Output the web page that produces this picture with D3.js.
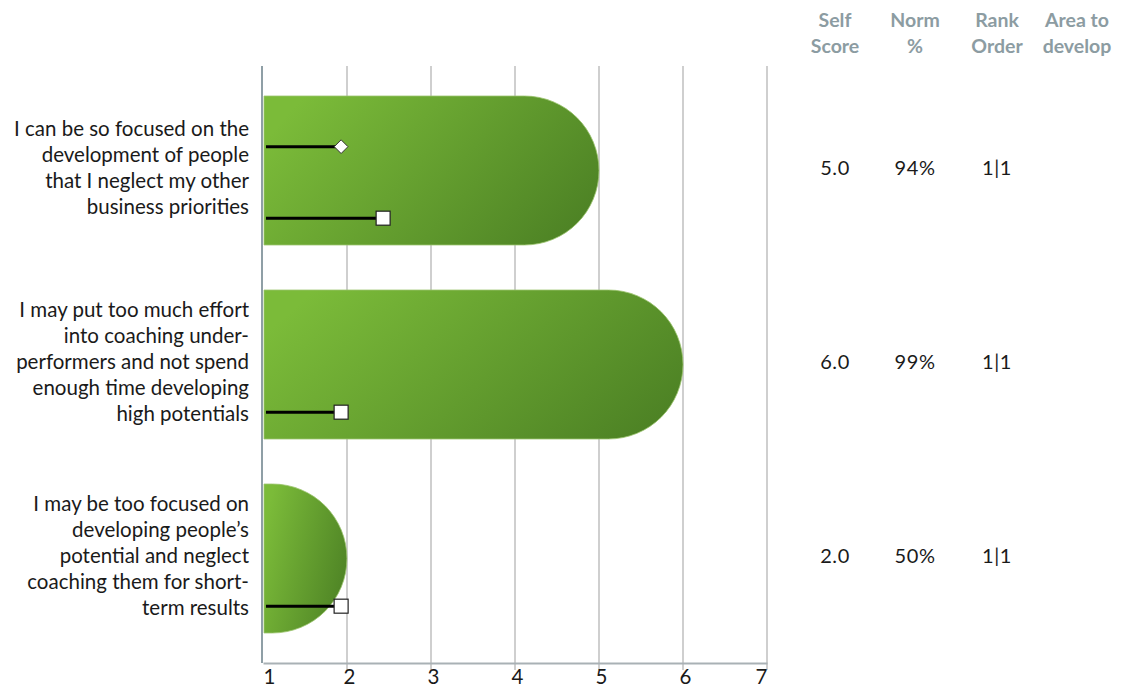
<!DOCTYPE html>
<html>
<head>
<meta charset="utf-8">
<script src="https://cdn.jsdelivr.net/npm/d3@7"></script>
<style>
  html, body { margin: 0; padding: 0; background: #ffffff; }
  svg { display: block; }
  text { font-family: Lato, "Open Sans", sans-serif; }
</style>
</head>
<body>
<svg id="chart" width="1124" height="687"></svg>
<script>
// ---- data ----
const categories = [
  ["I can be so focused on the", "development of people", "that I neglect my other", "business priorities"],
  ["I may put too much effort", "into coaching under-", "performers and not spend", "enough time developing", "high potentials"],
  ["I may be too focused on", "developing people\u2019s", "potential and neglect", "coaching them for short-", "term results"]
];
const selfScores = [5.0, 6.0, 2.0];
const diamondValues = [1.93, null, null];
const squareValues = [2.43, 1.93, 1.93];
const normPercent = ["94%", "99%", "50%"];
const rankOrder = ["1|1", "1|1", "1|1"];
const areaToDevelop = ["", "", ""];
const xTicks = [1, 2, 3, 4, 5, 6, 7];
const headers = [["Self", "Score"], ["Norm", "%"], ["Rank", "Order"], ["Area to", "develop"]];

// ---- layout ----
const svg = d3.select("#chart");
const plotTop = 66, plotBottom = 663;
const x = d3.scaleLinear().domain([1, 7]).range([263, 767]);
const y = d3.scaleBand().domain(d3.range(categories.length))
  .range([73.5, 655.5]).paddingInner(0.232).paddingOuter(0.116);
const colX = d3.scaleOrdinal().domain(d3.range(4)).range([835, 915, 997, 1077]);

const defs = svg.append("defs");
const grad = defs.append("linearGradient").attr("id", "barGrad")
  .attr("x1", 0).attr("y1", 0.3).attr("x2", 1).attr("y2", 0.7);
grad.append("stop").attr("offset", "0%").attr("stop-color", "#7bbb39");
grad.append("stop").attr("offset", "100%").attr("stop-color", "#4e8325");

// gridlines
svg.append("g").selectAll("line").data(xTicks.slice(1)).join("line")
  .attr("x1", d => x(d)).attr("x2", d => x(d))
  .attr("y1", plotTop).attr("y2", plotBottom + 7)
  .attr("stroke", "#cfcfcf").attr("stroke-width", 2);

// bars
function barPath(i) {
  const x0 = x(1) + 1, x1 = x(selfScores[i]);
  const top = y(i), h = y.bandwidth(), bot = top + h;
  const r = Math.min(h / 2, x1 - x0);
  return `M${x0},${top} L${x1 - r},${top} A${r},${h / 2} 0 0 1 ${x1 - r},${bot} L${x0},${bot} Z`;
}
svg.append("g").selectAll("path").data(d3.range(categories.length)).join("path")
  .attr("d", i => barPath(i))
  .attr("fill", "url(#barGrad)")
  .attr("stroke", "#9cc46e").attr("stroke-width", 0.8);

// axes lines
svg.append("line").attr("x1", x(1) - 1).attr("x2", x(1) - 1)
  .attr("y1", plotTop).attr("y2", plotBottom)
  .attr("stroke", "#8f9fa6").attr("stroke-width", 2);
const xAxis = d3.axisBottom(x).tickValues(xTicks).tickSize(0).tickPadding(6).tickFormat(d3.format("d"));
const gx = svg.append("g").attr("transform", `translate(0,${plotBottom})`).call(xAxis);
gx.select(".domain").attr("stroke", "#a9b1b5").attr("stroke-width", 2);
gx.selectAll("text").attr("font-size", 20.5).attr("fill", "#1a1a1a")
  .style("font-family", "Lato, sans-serif")
  .attr("text-anchor", d => d === 1 ? "start" : (d === 7 ? "end" : "middle"))
  .attr("dx", d => (d === 1 || d === 7) ? 0 : 2)
  .attr("dy", "0.74em");

// marker lines and markers
const markerG = svg.append("g");
const diamondOff = 0.34, squareOff = 0.82;
categories.forEach((c, i) => {
  const dv = diamondValues[i];
  if (dv != null) {
    const yy = y(i) + y.bandwidth() * diamondOff;
    markerG.append("line").attr("x1", x(1) + 3).attr("x2", x(dv)).attr("y1", yy).attr("y2", yy)
      .attr("stroke", "#000").attr("stroke-width", 3);
    markerG.append("path").attr("d", d3.symbol(d3.symbolDiamond2, 120)())
      .attr("transform", `translate(${x(dv)},${yy})`)
      .attr("fill", "#fff").attr("stroke", "#333").attr("stroke-width", 1);
  }
  const sv = squareValues[i];
  if (sv != null) {
    const yy = y(i) + y.bandwidth() * squareOff;
    markerG.append("line").attr("x1", x(1) + 3).attr("x2", x(sv)).attr("y1", yy).attr("y2", yy)
      .attr("stroke", "#000").attr("stroke-width", 3);
    markerG.append("rect").attr("x", x(sv) - 7).attr("y", yy - 7).attr("width", 14).attr("height", 14)
      .attr("fill", "#fff").attr("stroke", "#222").attr("stroke-width", 1.2);
  }
});

// category labels
const labG = svg.append("g");
categories.forEach((lines, i) => {
  const c = y(i) + y.bandwidth() / 2 - 3;
  const n = lines.length;
  lines.forEach((t, k) => {
    labG.append("text").attr("x", 249).attr("y", c + (k - (n - 1) / 2) * 26)
      .attr("dy", "0.35em").attr("text-anchor", "end")
      .attr("font-size", 20.5).attr("fill", "#1a1a1a").text(t);
  });
});

// headers
const hG = svg.append("g");
headers.forEach((lines, j) => {
  lines.forEach((t, k) => {
    hG.append("text").attr("x", colX(j)).attr("y", 20 + k * 26).attr("dy", "0.35em")
      .attr("text-anchor", "middle").attr("font-size", 19.5).attr("font-weight", "bold")
      .attr("fill", "#8c9ca2").text(t);
  });
});

// value columns
const vG = svg.append("g");
const columns = [selfScores.map(d3.format(".1f")), normPercent, rankOrder, areaToDevelop];
columns.forEach((vals, j) => {
  vals.forEach((t, i) => {
    vG.append("text").attr("x", colX(j)).attr("y", y(i) + y.bandwidth() / 2 - 3).attr("dy", "0.35em")
      .attr("text-anchor", "middle").attr("font-size", 20).attr("letter-spacing", 0.6)
      .attr("fill", "#1a1a1a").text(t);
  });
});
</script>
</body>
</html>
